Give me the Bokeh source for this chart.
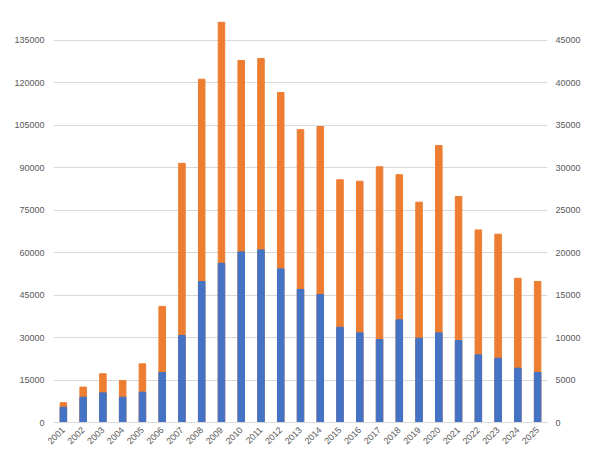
from bokeh.plotting import figure
from bokeh.models import Range1d, LinearAxis, FixedTicker, FactorRange
from bokeh.embed import file_html
from bokeh.resources import INLINE
import math

years = [str(y) for y in range(2001, 2026)]
total_left = [7000, 12500, 17200, 14800, 20700, 41000, 91500, 121200, 141300, 127800,
              128500, 116500, 103400, 104500, 85700, 85200, 90300, 87500, 77800, 97800,
              79800, 68000, 66500, 50900, 49800]
subset_right = [1800, 2980, 3490, 2980, 3570, 5880, 10240, 16590, 18740, 20080,
                20310, 18080, 15650, 15060, 11210, 10550, 9760, 12080, 9920, 10550,
                9650, 7960, 7560, 6390, 5880]
left_ticks = list(range(0, 150001, 15000))
right_ticks = list(range(0, 50001, 5000))

LEFT_MAX = 149000
p = figure(width=600, height=450, x_range=FactorRange(*years),
           y_range=Range1d(0, LEFT_MAX), output_backend="svg", toolbar_location=None,
           min_border_left=53, min_border_right=53, min_border_top=0, min_border_bottom=28)
p.extra_y_ranges = {"right": Range1d(0, LEFT_MAX / 3)}

p.vbar(x=years, top=total_left, width=0.33, color="#ED7D31")
p.vbar(x=years, top=subset_right, width=0.33, color="#4472C4", y_range_name="right")

p.yaxis.ticker = FixedTicker(ticks=left_ticks)
ax_r = LinearAxis(y_range_name="right", ticker=FixedTicker(ticks=right_ticks))
p.add_layout(ax_r, "right")

for ax, so in [(p.yaxis[0], 9), (ax_r, 8)]:
    ax.axis_line_color = None
    ax.major_tick_line_color = None
    ax.minor_tick_line_color = None
    ax.major_tick_out = 0
    ax.minor_tick_out = 0
    ax.major_label_text_font = "Liberation Sans"
    ax.major_label_text_font_size = "9px"
    ax.major_label_text_color = "#595959"
    ax.major_label_standoff = so
p.yaxis[0].formatter.use_scientific = False
ax_r.formatter.use_scientific = False

xa = p.xaxis[0]
xa.axis_line_color = "#d9d9d9"
xa.major_tick_line_color = None
xa.minor_tick_line_color = None
xa.major_tick_out = 0
xa.minor_tick_out = 0
xa.major_label_orientation = math.pi / 4
xa.major_label_text_font = "Liberation Sans"
xa.major_label_text_font_size = "9px"
xa.major_label_text_color = "#595959"
xa.major_label_standoff = 6

p.xgrid.grid_line_color = None
p.ygrid.grid_line_color = "#d9d9d9"
p.outline_line_color = None
p.background_fill_color = "white"
p.border_fill_color = "white"

open("out.html", "w").write(file_html(p, INLINE))
